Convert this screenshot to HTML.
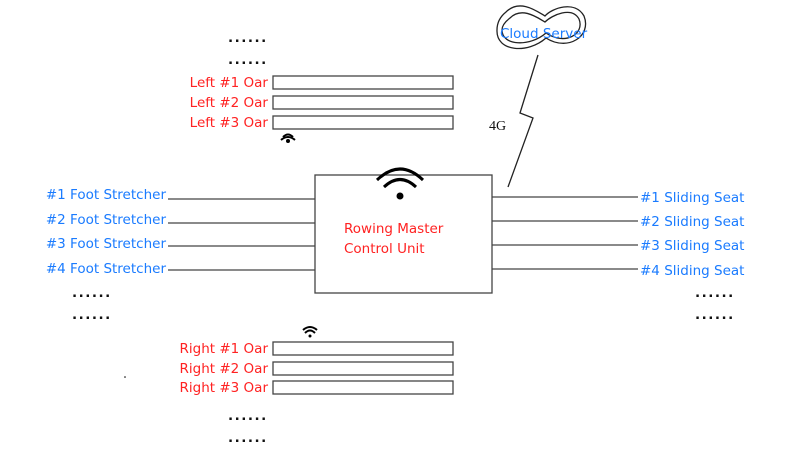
<!DOCTYPE html>
<html><head><meta charset="utf-8"><style>
body{margin:0;background:#fff}
svg text{font-family:"DejaVu Sans","Liberation Sans",sans-serif;font-size:13.5px}
.r{fill:#f22}.b{fill:#1a7bff}.k{fill:#111}
</style></head><body>
<svg width="800" height="450" xmlns="http://www.w3.org/2000/svg">
<g fill="none" stroke="#444" stroke-width="1.3">
<rect x="273" y="76" width="180" height="13"/>
<rect x="273" y="96" width="180" height="13"/>
<rect x="273" y="116" width="180" height="13"/>
<rect x="273" y="342" width="180" height="13"/>
<rect x="273" y="362" width="180" height="13"/>
<rect x="273" y="381" width="180" height="13"/>
<rect x="315" y="175" width="177" height="118"/>
<path d="M168 199H315M168 223H315M168 246H315M168 270H315"/>
<path d="M492 197H638M492 221H638M492 245H638M492 269H638"/>
<path d="M508 187L533 118L520 113L538 55" stroke="#222"/>
<path d="M506 12C520 -2 538 12 545 16C552 8 575 0 584 16C592 36 568 52 546 38C528 54 496 52 497 30C497 22 501 16 506 12Z" stroke="#222"/>
<path d="M510 18C522 6 538 18 545 22C552 15 572 6 579 19C585 34 565 46 546 33C530 47 502 46 502 30C502 25 506 21 510 18Z" stroke="#222"/>
<g stroke="#000" stroke-width="3"><path d="M377 180Q400 158 423 180"/><path d="M384 187Q400 172 416 187"/></g>
<path d="M283 137Q288 132 293 137M281 140Q288 134 295 140" stroke="#000" stroke-width="2"/>
<path d="M303 330Q310 324 317 330M305 333Q310 328 315 333" stroke="#000" stroke-width="2"/>
</g>
<circle cx="400" cy="196" r="3.5"/>
<circle cx="288" cy="141" r="2"/><circle cx="310" cy="336" r="1.5"/>
<text x="500" y="38" class="b">Cloud Server</text>
<text x="489" y="130" class="k" style="font-family:'Liberation Serif',serif;font-size:14px">4G</text>
<text x="268" y="87" text-anchor="end" class="r">Left #1 Oar</text>
<text x="268" y="107" text-anchor="end" class="r">Left #2 Oar</text>
<text x="268" y="127" text-anchor="end" class="r">Left #3 Oar</text>
<text x="268" y="353" text-anchor="end" class="r">Right #1 Oar</text>
<text x="268" y="373" text-anchor="end" class="r">Right #2 Oar</text>
<text x="268" y="392" text-anchor="end" class="r">Right #3 Oar</text>
<text x="344" y="233" class="r">Rowing Master</text>
<text x="344" y="253" class="r">Control Unit</text>
<text x="166" y="199" text-anchor="end" class="b">#1 Foot Stretcher</text>
<text x="166" y="224" text-anchor="end" class="b">#2 Foot Stretcher</text>
<text x="166" y="248" text-anchor="end" class="b">#3 Foot Stretcher</text>
<text x="166" y="273" text-anchor="end" class="b">#4 Foot Stretcher</text>
<text x="640" y="202" class="b">#1 Sliding Seat</text>
<text x="640" y="226" class="b">#2 Sliding Seat</text>
<text x="640" y="250" class="b">#3 Sliding Seat</text>
<text x="640" y="275" class="b">#4 Sliding Seat</text>
<g class="k" style="font-weight:bold;font-size:13px;letter-spacing:1.5px">
<text x="228" y="42">......</text><text x="228" y="64">......</text>
<text x="72" y="297">......</text><text x="72" y="319">......</text>
<text x="695" y="297">......</text><text x="695" y="319">......</text>
<text x="228" y="420">......</text><text x="228" y="442">......</text>
</g>
<circle cx="125" cy="377" r="0.8"/>
</svg>
</body></html>
